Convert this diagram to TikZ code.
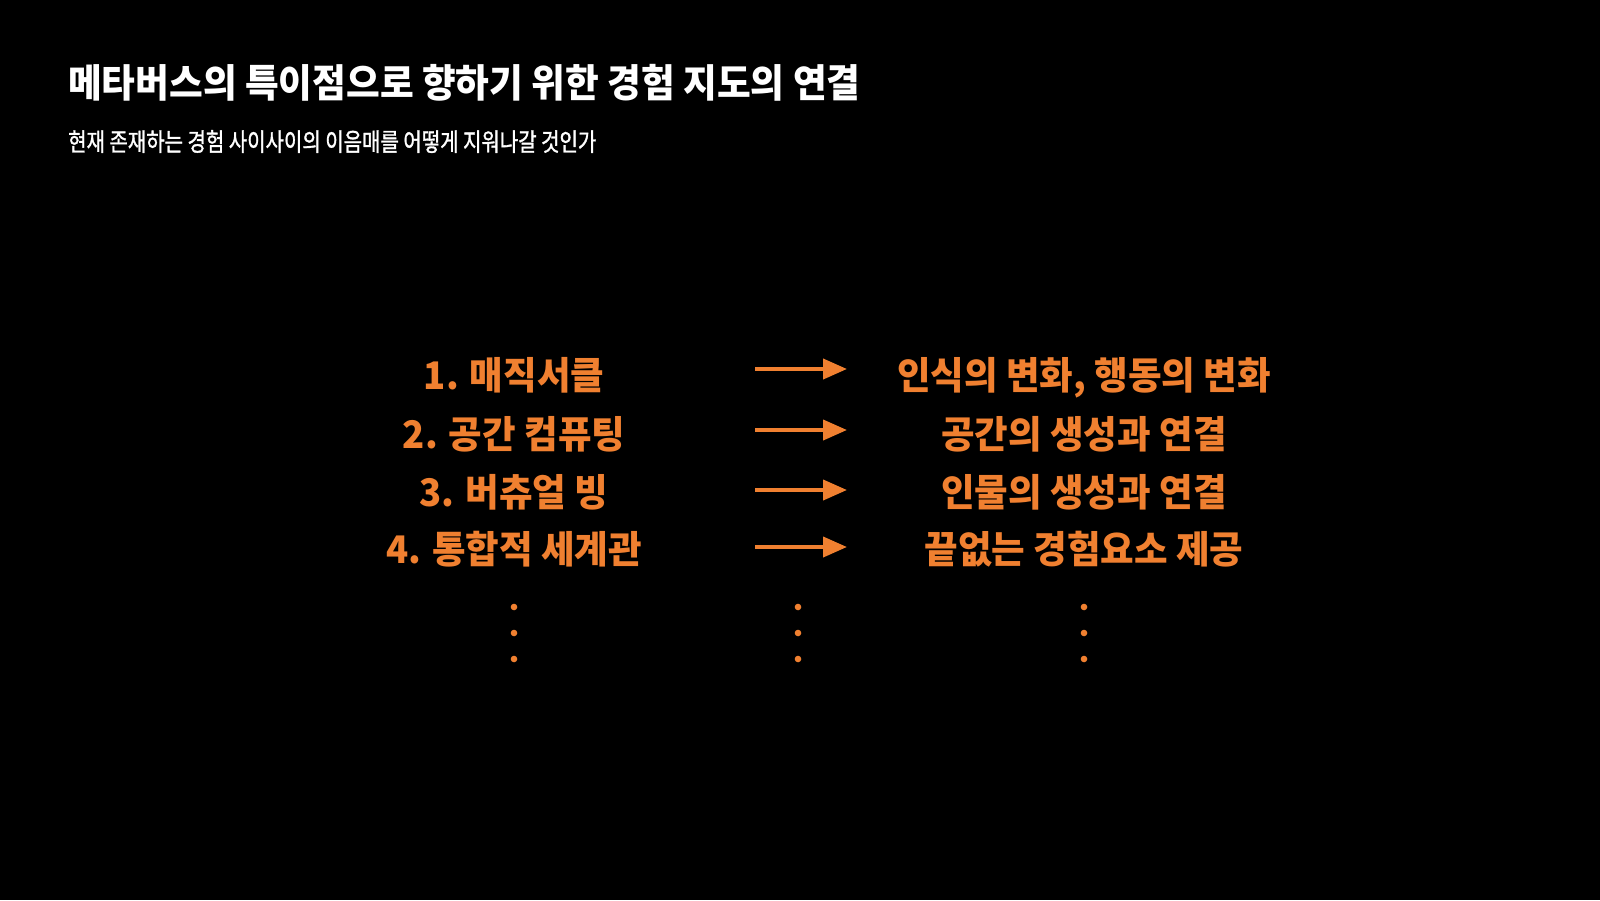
\documentclass[tikz,border=0pt]{standalone}
\usepackage{fontspec}
\setmainfont{Noto Sans CJK KR}
\newfontfamily\titlefont[FakeStretch=0.94]{Noto Sans CJK KR}
\newfontfamily\subfont[FakeStretch=0.80,FakeBold=1.3]{Noto Sans CJK KR}
\newfontfamily\itemfont[FakeStretch=0.96]{Noto Sans CJK KR}
\usetikzlibrary{arrows.meta}
\definecolor{accent}{RGB}{240,128,48}
\tikzset{
  titletext/.style={anchor=base west,inner sep=0pt,text=white,font=\titlefont\bfseries\fontsize{39pt}{39pt}\selectfont},
  subtext/.style={anchor=base west,inner sep=0pt,text=white,font=\subfont\fontsize{25pt}{25pt}\selectfont},
  itemtext/.style={anchor=base,inner sep=0pt,text=accent,font=\itemfont\bfseries\fontsize{38pt}{38pt}\selectfont},
  maparrow/.style={draw=accent,line width=4pt,-{Triangle[length=24pt,width=20pt]}},
  dotmark/.style={fill=accent,draw=none}
}
\begin{document}
\begin{tikzpicture}[x=1pt,y=-1pt]
\useasboundingbox[fill=black] (0,0) rectangle (1600,900);
\node[titletext] (title) at (68,97) {메타버스의 특이점으로 향하기 위한 경험 지도의 연결};
\node[subtext] (subtitle) at (68,151) {현재 존재하는 경험 사이사이의 이음매를 어떻게 지워나갈 것인가};
% left column
\node[itemtext] (l1) at (514,389) {1. 매직서클};
\node[itemtext] (l2) at (514,448) {2. 공간 컴퓨팅};
\node[itemtext] (l3) at (514,506) {3. 버츄얼 빙};
\node[itemtext] (l4) at (514,563) {4. 통합적 세계관};
% right column
\node[itemtext] (r1) at (1084,389) {인식의 변화, 행동의 변화};
\node[itemtext] (r2) at (1084,448) {공간의 생성과 연결};
\node[itemtext] (r3) at (1084,506) {인물의 생성과 연결};
\node[itemtext] (r4) at (1084,563) {끝없는 경험요소 제공};
% arrows
\coordinate (a1s) at (755,369); \coordinate (a1e) at (847,369);
\coordinate (a2s) at (755,430); \coordinate (a2e) at (847,430);
\coordinate (a3s) at (755,490); \coordinate (a3e) at (847,490);
\coordinate (a4s) at (755,547); \coordinate (a4e) at (847,547);
\draw[maparrow] (a1s) -- (a1e);
\draw[maparrow] (a2s) -- (a2e);
\draw[maparrow] (a3s) -- (a3e);
\draw[maparrow] (a4s) -- (a4e);
% dots
\foreach \x in {514,798,1084}{
  \foreach \y in {607,633,659}{
    \fill[dotmark] (\x,\y) circle (3.3pt);
  }
}
\end{tikzpicture}
\end{document}
